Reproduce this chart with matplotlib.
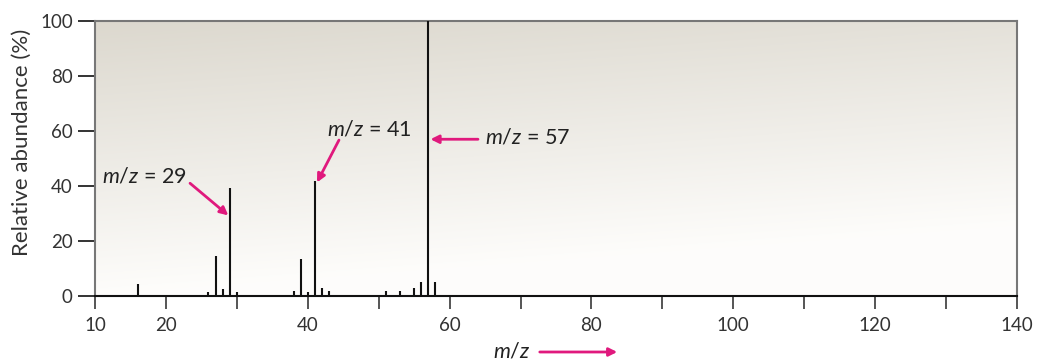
import numpy as np
import matplotlib.pyplot as plt
from matplotlib.patches import FancyArrowPatch

plt.rcParams['font.family'] = ['Lato', 'DejaVu Sans']
plt.rcParams['mathtext.fontset'] = 'custom'
plt.rcParams['mathtext.it'] = 'Lato:italic'
plt.rcParams['mathtext.rm'] = 'Lato'

# peaks
mz = [16, 26, 27, 28, 29, 30, 38, 39, 40, 41, 42, 43, 51, 53, 55, 56, 57, 58]
abundance = [4.4, 1.4, 14.7, 2.5, 39.3, 1.6, 1.8, 13.5, 1.6, 41.8, 2.8, 1.8,
             1.8, 1.8, 2.8, 5.2, 100, 5.2]

xticks = [10, 20, 30, 40, 50, 60, 70, 80, 90, 100, 110, 120, 130, 140]
xticklabels = ['10', '20', '', '40', '', '60', '', '80', '', '100', '', '120', '', '140']
yticks = [0, 20, 40, 60, 80, 100]

pink = '#e0197d'

fig = plt.figure(figsize=(10.39, 3.6), dpi=100)
ax = fig.add_axes([95 / 1039, 1 - 296 / 360, 922 / 1039, 275 / 360])

# background gradient, beige at top-left fading to white towards bottom/right
top = np.array([0.862, 0.847, 0.808])
white = np.array([0.995, 0.992, 0.985])
ty = np.linspace(0, 1, 256)[:, None]
tx = np.linspace(0, 1, 256)[None, :]
w = np.clip(ty + 0.25 * tx, 0, 1)[:, :, None]
grad = top * (1 - w) + white * w
ax.imshow(grad, extent=[10, 140, 0, 100], origin='upper', aspect='auto',
          zorder=0, interpolation='bilinear')
ax.set_xlim(10, 140)
ax.set_ylim(0, 100)

ax.vlines(mz, 0, abundance, color='#111111', linewidth=1.5, zorder=3)

for side in ['left', 'top', 'right']:
    ax.spines[side].set_color('#777777')
    ax.spines[side].set_linewidth(1.5)
ax.spines['bottom'].set_color('#111111')
ax.spines['bottom'].set_linewidth(1.5)

ax.set_xticks(xticks)
ax.set_xticklabels(xticklabels, fontsize=13.5, color='#333333')
ax.set_yticks(yticks)
ax.set_yticklabels([str(v) for v in yticks], fontsize=13.5, color='#333333')
ax.tick_params(axis='x', direction='out', length=9, width=1.4, color='#555555', pad=6)
ax.tick_params(axis='y', direction='out', length=12, width=1.4, color='#333333', pad=4)
ax.set_ylabel('Relative abundance (%)', fontsize=16, color='#333333')
ax.yaxis.set_label_coords(-0.068, 0.56)

arrow = dict(arrowstyle='-|>', color=pink, lw=2, mutation_scale=12, shrinkA=0, shrinkB=0)
lbl = dict(fontsize=15.5, color='#222222', va='center', ha='left')
ax.text(11.0, 43.3, '$m/z$ = 29', **lbl)
ax.annotate('', xy=(28.8, 29.3), xytext=(23.4, 41), arrowprops=arrow)
ax.text(42.7, 60.4, '$m/z$ = 41', **lbl)
ax.annotate('', xy=(41.3, 41.3), xytext=(44.4, 56.7), arrowprops=arrow)
ax.text(65.0, 57.5, '$m/z$ = 57', **lbl)
ax.annotate('', xy=(57.3, 57.0), xytext=(64.0, 57.0), arrowprops=arrow)

# x axis label with pink arrow
fig.text(493 / 1039, 1 - 352 / 360, '$m/z$', fontsize=15.5, color='#222222',
         ha='left', va='center')
fig.add_artist(FancyArrowPatch(
    (537 / 1039, 1 - 352 / 360), (620 / 1039, 1 - 352 / 360),
    transform=fig.transFigure, arrowstyle='-|>', color=pink, lw=2,
    mutation_scale=12))

fig.savefig('out.png', dpi=100)
